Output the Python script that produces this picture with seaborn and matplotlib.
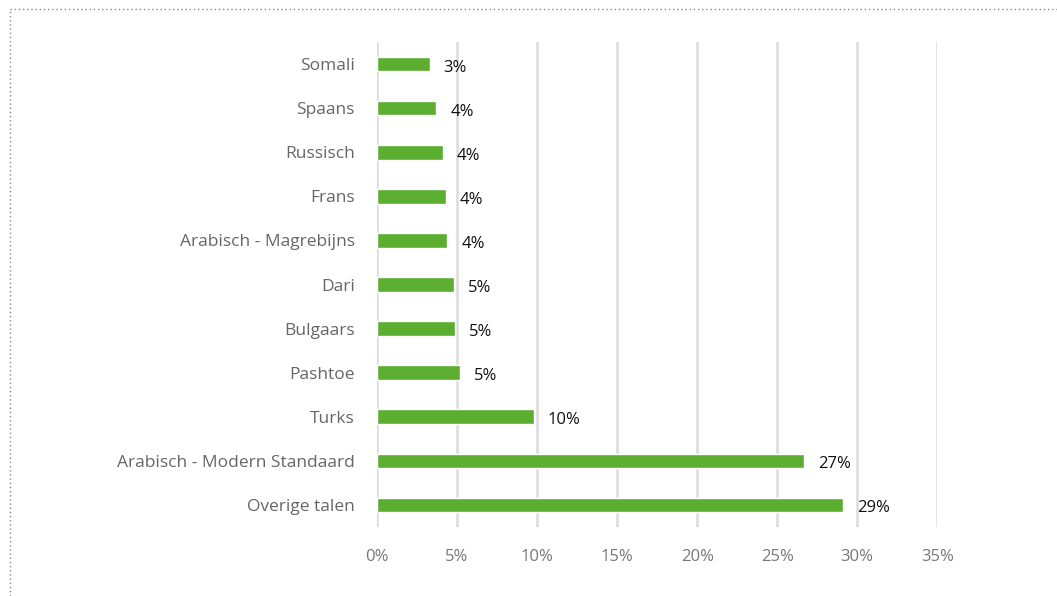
import matplotlib
matplotlib.use('Agg')
import matplotlib.pyplot as plt
import matplotlib.lines as mlines
import seaborn as sns
import pandas as pd

# languages, top to bottom
talen = ['Somali', 'Spaans', 'Russisch', 'Frans', 'Arabisch - Magrebijns', 'Dari',
         'Bulgaars', 'Pashtoe', 'Turks', 'Arabisch - Modern Standaard', 'Overige talen']
aandeel = [3.3, 3.7, 4.1, 4.3, 4.4, 4.8, 4.9, 5.2, 9.8, 26.7, 29.1]
labels = ['3%', '4%', '4%', '4%', '4%', '5%', '5%', '5%', '10%', '27%', '29%']
ticks = [0, 5, 10, 15, 20, 25, 30, 35]

df = pd.DataFrame({'taal': talen, 'aandeel': aandeel})

sns.set_style('white')
plt.rcParams['font.family'] = ['Open Sans', 'DejaVu Sans']

fig = plt.figure(figsize=(10.57, 5.96), dpi=100)
ax = fig.add_axes([0.3567, 0.1158, 0.53, 0.8137])

sns.barplot(data=df, x='aandeel', y='taal', color='#5bae30', width=0.33,
            saturation=1, ax=ax, zorder=3)

ax.set_xlim(0, 35)
ax.set_ylim(10.5, -0.5)
ax.set_xticks(ticks)
ax.set_xticklabels([f'{t}%' for t in ticks], fontsize=12, color='#777777')
ax.tick_params(axis='y', labelsize=12.5, labelcolor='#666666', length=0, pad=16)
ax.tick_params(axis='x', length=0, pad=16)
ax.set_xlabel('')
ax.set_ylabel('')
ax.grid(axis='x', color='#dcdcdc', linewidth=1.8, zorder=0)
for s in ax.spines.values():
    s.set_visible(False)

txts = ax.bar_label(ax.containers[0], labels=labels, padding=10, fontsize=12, color='#111111')
for t in txts:
    t.xyann = (10, -2.5)

# dotted frame at top and left
fig.add_artist(mlines.Line2D([10 / 1057, 1], [1 - 9 / 596, 1 - 9 / 596], transform=fig.transFigure,
                             color='#888888', linewidth=1, linestyle=(0, (1, 2))))
fig.add_artist(mlines.Line2D([10 / 1057, 10 / 1057], [0, 1 - 9 / 596], transform=fig.transFigure,
                             color='#888888', linewidth=1, linestyle=(0, (1, 2))))

fig.savefig('out.png', dpi=100)
